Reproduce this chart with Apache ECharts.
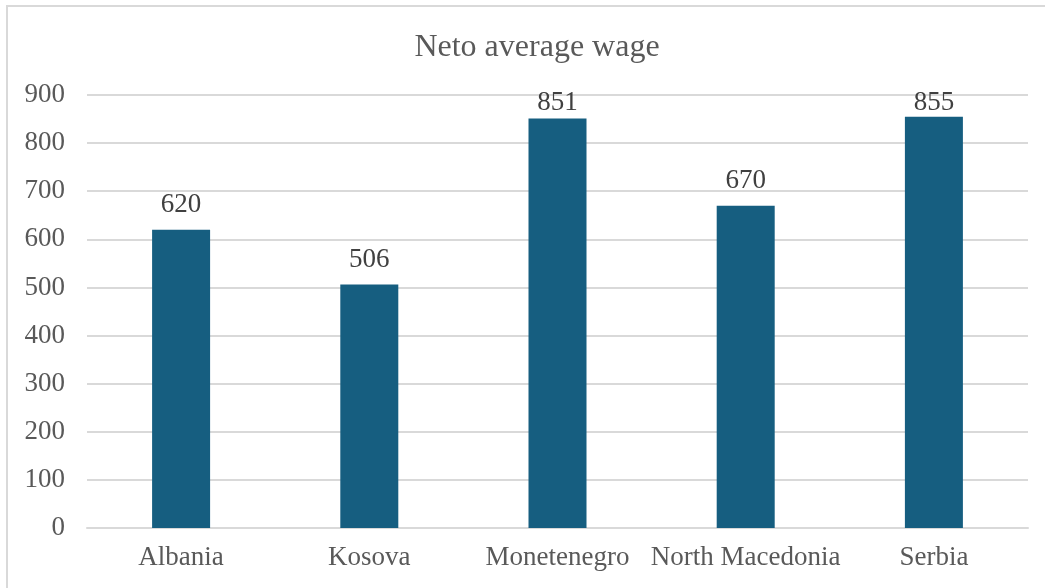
<!DOCTYPE html>
<html>
<head>
<meta charset="utf-8">
<script src="https://cdn.jsdelivr.net/npm/echarts@6/dist/echarts.min.js"></script>
<style>
  html, body { margin: 0; padding: 0; background: #fff; }
  #chart { width: 1045px; height: 588px; }
</style>
</head>
<body>
<div id="chart"></div>
<script>
// Net average wage by country
const countries = ['Albania', 'Kosova', 'Monetenegro', 'North Macedonia', 'Serbia'];
const wages = [620, 506, 851, 670, 855];
const yTicks = { min: 0, max: 900, step: 100 };

const serif = '"Liberation Serif", "Times New Roman", serif';
const chart = echarts.init(document.getElementById('chart'));

// Value labels sit above their bars but never rise above this line
const labelCeiling = 89;

chart.setOption({
  animation: false,
  backgroundColor: '#ffffff',
  title: {
    text: 'Neto average wage',
    left: 532,
    top: 27,
    textAlign: 'center',
    textStyle: { fontFamily: serif, fontSize: 32, fontWeight: 'normal', color: '#595959' }
  },
  grid: { left: 87, right: 17, top: 95, bottom: 60, containLabel: false },
  xAxis: {
    type: 'category',
    data: countries,
    axisLine: { show: true, lineStyle: { color: '#d9d9d9', width: 2 } },
    axisTick: { show: false },
    axisLabel: { interval: 0, fontFamily: serif, fontSize: 27, color: '#595959', margin: 16 }
  },
  yAxis: {
    type: 'value',
    min: yTicks.min,
    max: yTicks.max,
    interval: yTicks.step,
    axisLine: { show: false },
    axisTick: { show: false },
    splitLine: { lineStyle: { color: '#d9d9d9', width: 2 } },
    axisLabel: { fontFamily: serif, fontSize: 27, color: '#595959', margin: 22 }
  },
  series: [{
    type: 'bar',
    data: wages,
    barWidth: 58,
    itemStyle: { color: '#165e80' },
    label: {
      show: true,
      position: 'top',
      distance: 11,
      fontFamily: serif,
      fontSize: 27,
      color: '#404040'
    },
    labelLayout: function (params) {
      const r = params.labelRect;
      return {
        x: r.x + r.width / 2,
        y: Math.max(r.y, labelCeiling),
        align: 'center',
        verticalAlign: 'top'
      };
    }
  }],
  graphic: [
    { type: 'line', shape: { x1: 7, y1: 5, x2: 7, y2: 588 }, style: { stroke: '#d9d9d9', lineWidth: 2 } },
    { type: 'line', shape: { x1: 6, y1: 6, x2: 1045, y2: 6 }, style: { stroke: '#d9d9d9', lineWidth: 2 } }
  ]
});
</script>
</body>
</html>
